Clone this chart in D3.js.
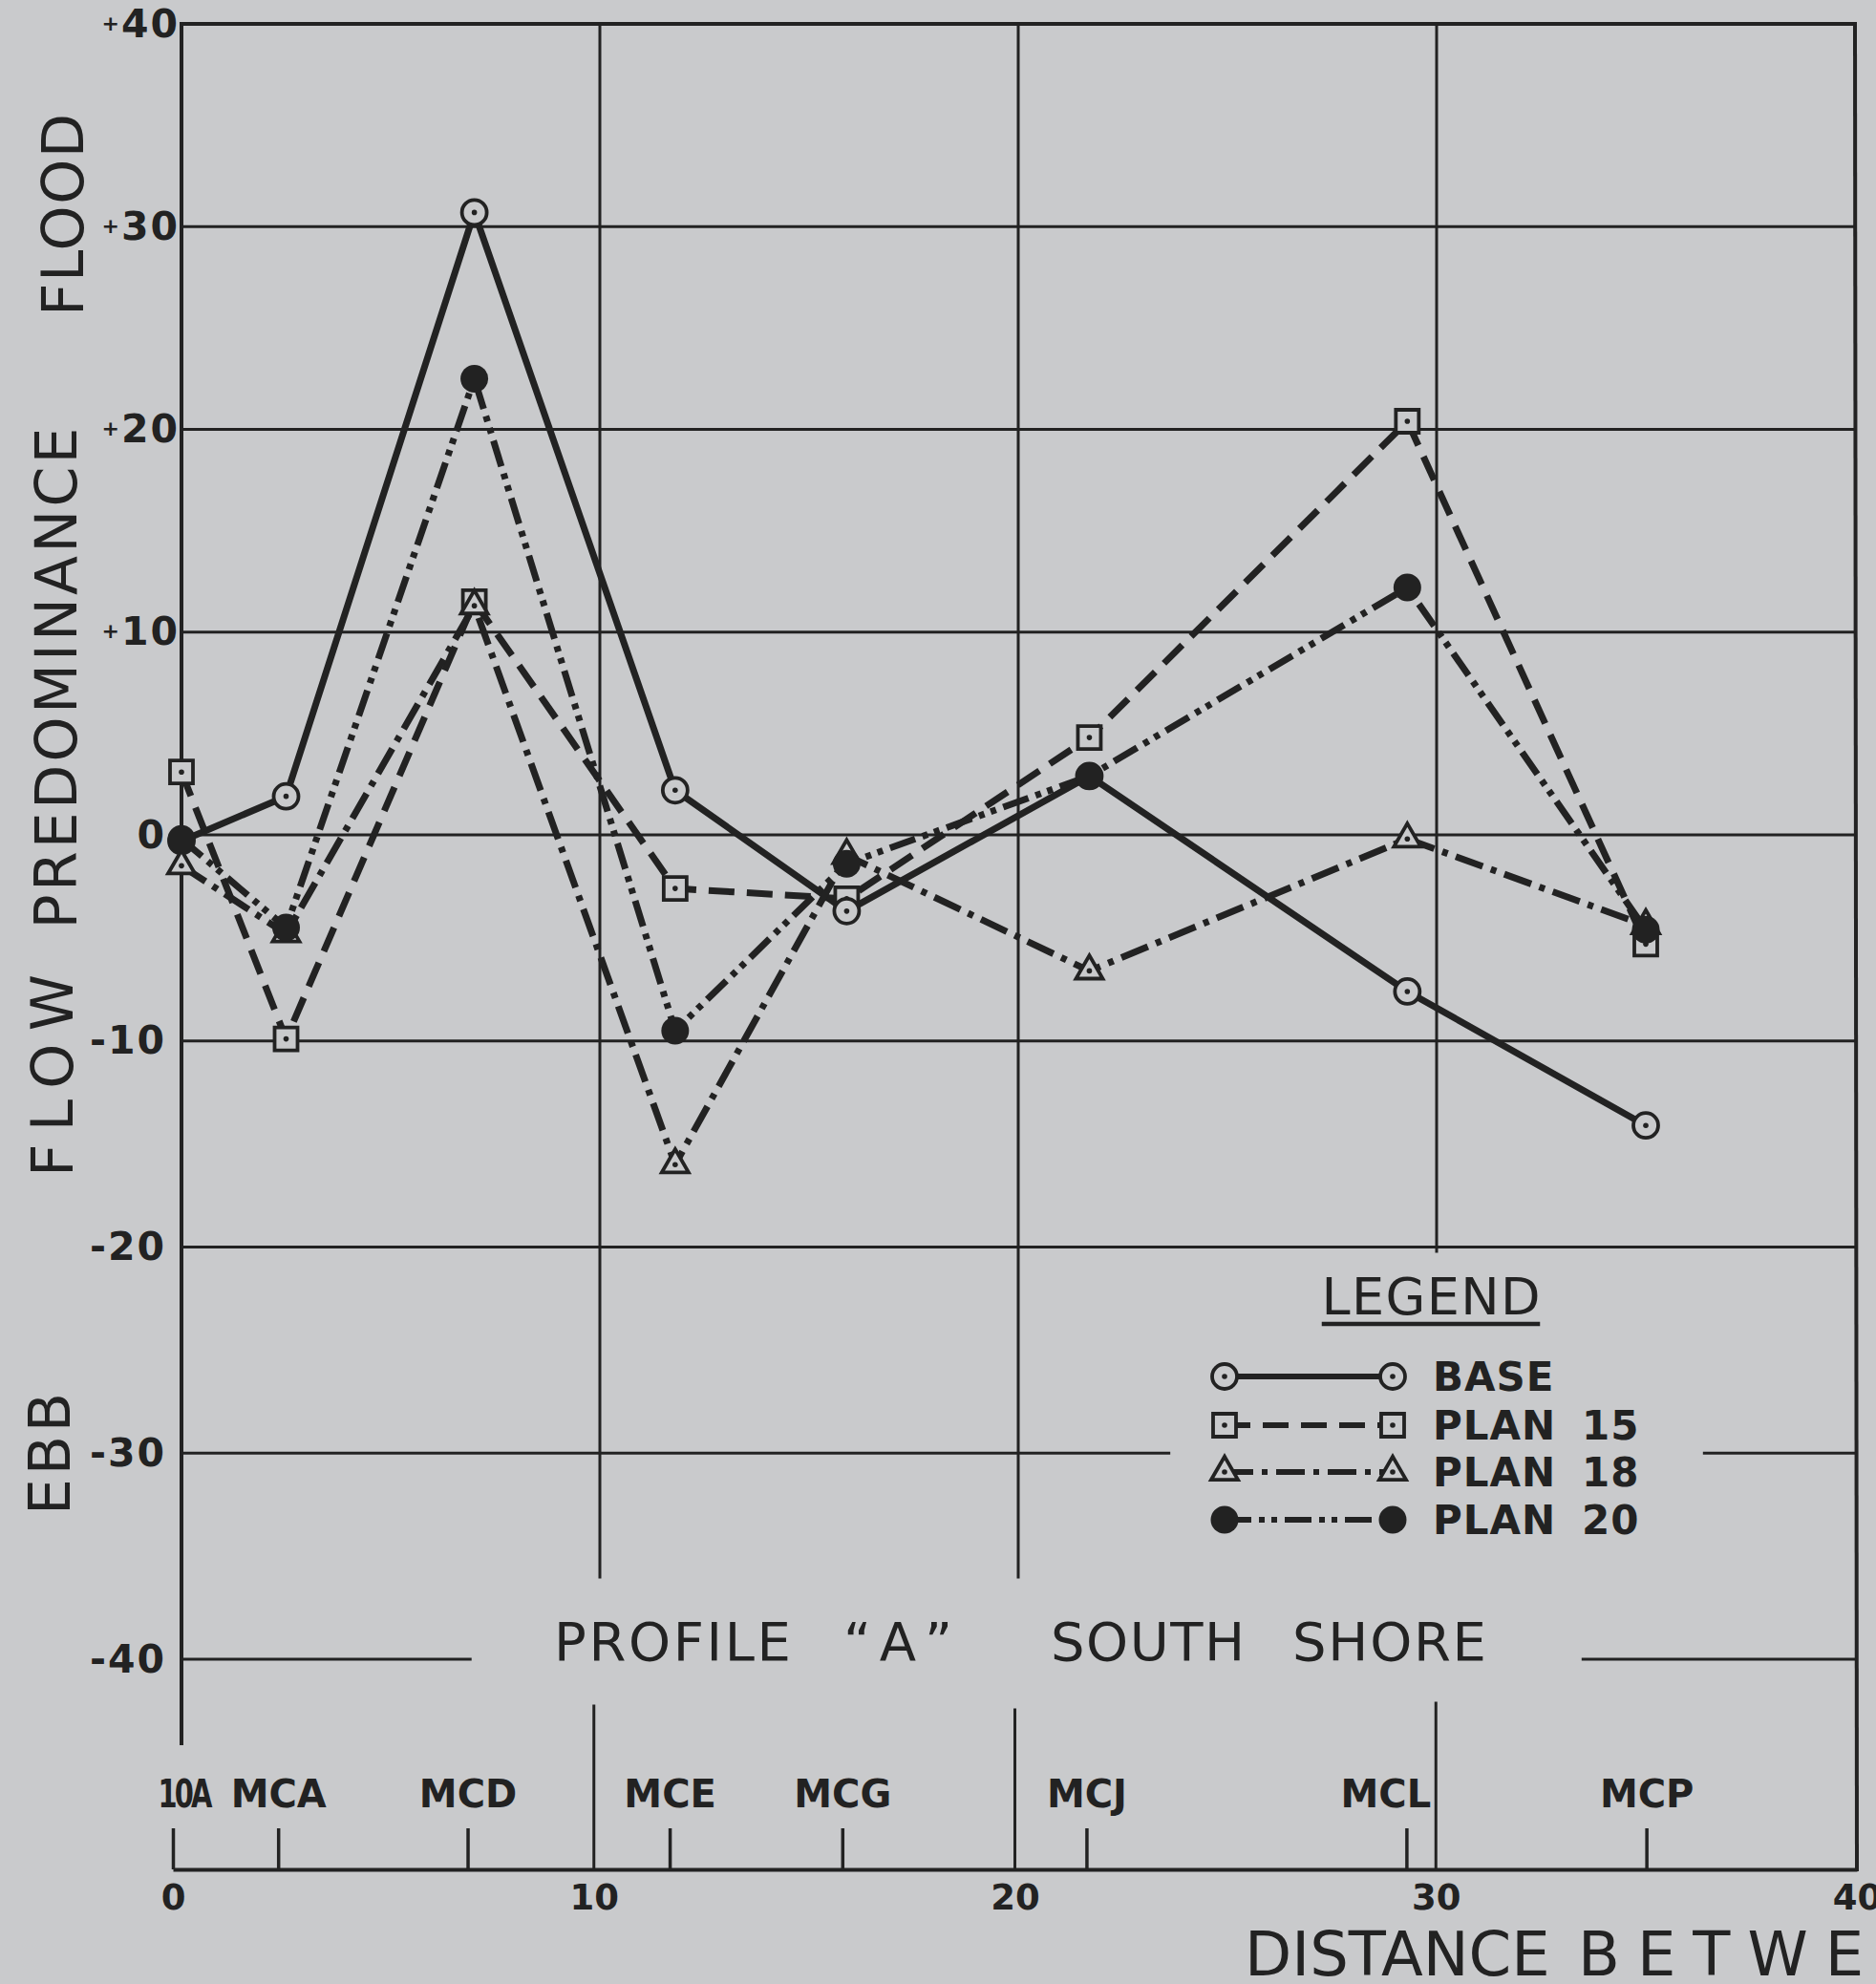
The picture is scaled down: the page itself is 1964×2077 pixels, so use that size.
<!DOCTYPE html>
<html>
<head>
<meta charset="utf-8">
<script src="https://cdn.jsdelivr.net/npm/d3@7"></script>
<style>
  html, body { margin: 0; padding: 0; background: #c9cacc; overflow: hidden; }
  svg { display: block; }
  text { font-family: "DejaVu Sans", "Liberation Sans", sans-serif; fill: #222; }
</style>
</head>
<body>
<svg id="chart"></svg>
<script>
// ---- data ----------------------------------------------------------------
const stations        = ["10A", "MCA", "MCD", "MCE", "MCG", "MCJ", "MCL", "MCP"];
const stationDistance = [0, 2.5, 7.0, 11.8, 15.9, 21.7, 29.3, 35.0];

const seriesNames = ["BASE", "PLAN 15", "PLAN 18", "PLAN 20"];
const base   = [-0.3,  1.9, 30.7,   2.2, -3.7,  2.9, -7.6, -14.1];
const plan15 = [ 3.1, -9.9, 11.5,  -2.6, -3.1,  4.8, 20.4,  -5.3];
const plan18 = [-1.5, -4.8, 11.3, -16.0, -1.0, -6.6, -0.2,  -4.4];
const plan20 = [-0.2, -4.5, 22.5,  -9.5, -1.4,  2.9, 12.2,  -4.6];

const yTicks = [40, 30, 20, 10, 0, -10, -20, -30, -40];
const xTicks = [0, 10, 20, 30, 40];

// ---- setup ---------------------------------------------------------------
const W = 1964, H = 2077;
const ink = "#222", paper = "#c9cacc";
const svg = d3.select("#chart").attr("width", W).attr("height", H);
svg.append("rect").attr("width", W).attr("height", H).attr("fill", paper);

const x  = d3.scaleLinear().domain([0, 40]).range([190, 1942]);        // plot area
const xb = d3.scaleLinear().domain([0, 40]).range([181, 1944]);        // station axis
const y  = d3.scaleLinear().domain([-40, 0, 40]).range([1737, 874, 25]);
const axisY = 1957;

const line = (g, x1, y1, x2, y2, w) =>
  g.append("line").attr("x1", x1).attr("y1", y1).attr("x2", x2).attr("y2", y2)
   .attr("stroke", ink).attr("stroke-width", w).attr("stroke-linecap", "square");

// ---- grid & frame ---------------------------------------------------------
const grid = svg.append("g");
[30, 20, 10, 0, -10, -20].forEach(v => line(grid, x(0), y(v), x(40), y(v), 3));
// lower grid lines are broken around the legend and the title
line(grid, x(0), y(-30), x(23.6), y(-30), 3);
line(grid, x(36.4), y(-30), x(40), y(-30), 3);
line(grid, x(0), y(-40), x(6.9), y(-40), 3);
line(grid, x(33.5), y(-40), x(40), y(-40), 3);
// vertical grid lines, interrupted by the title band
line(grid, x(10), y(40), x(10), 1651, 3);
line(grid, x(20), y(40), x(20), 1651, 3);
line(grid, x(30), y(40), x(30), 1310, 3);
line(grid, xb(10), 1786, xb(10), axisY, 3);
line(grid, xb(20), 1790, xb(20), axisY, 3);
line(grid, xb(30), 1783, xb(30), axisY, 3);
// frame
line(grid, x(0), y(40), x(40), y(40), 4);
line(grid, x(0), y(40), x(0), 1825, 4);
line(grid, x(40), y(40), xb(40), axisY, 4);

// ---- axes -----------------------------------------------------------------
const stationAxis = d3.axisTop(xb)
  .tickValues(stationDistance)
  .tickFormat((d, i) => stations[i])
  .tickSize(43).tickSizeOuter(0).tickPadding(22);
const gs = svg.append("g").attr("transform", `translate(0,${axisY})`).call(stationAxis);
gs.select(".domain").attr("stroke", ink).attr("stroke-width", 4);
gs.selectAll(".tick line").attr("stroke", ink).attr("stroke-width", 3.5);
const labelNudge = { "10A": 11, "MCL": -22 };
gs.selectAll(".tick text")
  .attr("fill", ink).attr("font-size", 40).attr("font-weight", "bold")
  .attr("font-family", "DejaVu Sans")
  .attr("dx", (d, i) => labelNudge[stations[i]] || 0)
  .each(function (d, i) {
    // the station number is lettered narrow
    if (stations[i] === "10A")
      d3.select(this).attr("letter-spacing", -4)
        .attr("textLength", 54).attr("lengthAdjust", "spacingAndGlyphs");
  });

const distAxis = d3.axisBottom(xb).tickValues(xTicks).tickFormat(d3.format("d"))
  .tickSize(0).tickPadding(16);
const gd = svg.append("g").attr("transform", `translate(0,${axisY})`).call(distAxis);
gd.select(".domain").remove();
gd.selectAll(".tick text").attr("fill", ink).attr("font-size", 37)
  .attr("font-weight", "bold").attr("font-family", "DejaVu Sans");

const tickFont = 41;
const valAxis = d3.axisLeft(y).tickValues(yTicks).tickSize(0).tickPadding(2);
const gv = svg.append("g").attr("transform", `translate(${x(0)},0)`).call(valAxis);
gv.select(".domain").remove();
gv.selectAll(".tick text")
  .attr("fill", ink).attr("font-size", tickFont).attr("font-weight", "bold")
  .attr("font-family", "DejaVu Sans").attr("letter-spacing", 2)
  .attr("dx", d => d > 0 ? 0 : -14)
  .each(function (d) {
    const t = d3.select(this).text("");
    if (d > 0) {
      t.append("tspan").attr("font-size", 22).attr("dy", 0.32 * tickFont - 7).text("+");
      t.append("tspan").attr("dy", 7).text(d);
    } else if (d < 0) {
      t.append("tspan").text("-" + Math.abs(d));
    } else {
      t.text("0");
    }
  });

// ---- axis titles -----------------------------------------------------------
const vtext = (str, cx, cy, len, size) =>
  svg.append("text").attr("transform", `translate(${cx},${cy}) rotate(-90)`)
    .attr("text-anchor", "middle").attr("dominant-baseline", "central")
    .attr("font-size", size).attr("textLength", len).attr("lengthAdjust", "spacing")
    .text(str);
vtext("FLOOD", 66, 225, 212, 60);
vtext("PREDOMINANCE", 59, 710, 525, 60);
vtext("FLOW", 55, 1126, 212, 60);
vtext("EBB", 52, 1522, 128, 60);

const htext = (str, x0, cy, len, size) =>
  svg.append("text").attr("x", x0).attr("y", cy).attr("dominant-baseline", "central")
    .attr("font-size", size).attr("textLength", len).attr("lengthAdjust", "spacing").text(str);
htext("PROFILE", 580, 1718, 248, 56);
svg.append("text").attr("x", 948).attr("y", 1718).attr("text-anchor", "middle")
  .attr("dominant-baseline", "central").attr("font-size", 56).attr("letter-spacing", 16)
  .text("\u201CA\u201D");
htext("SOUTH", 1100, 1718, 203, 56);
htext("SHORE", 1353, 1718, 203, 56);
svg.append("text").attr("x", 1303).attr("y", 2046).attr("dominant-baseline", "central")
  .attr("font-size", 64).text("DISTANCE");
svg.append("text").attr("x", 1652).attr("y", 2046).attr("dominant-baseline", "central")
  .attr("font-size", 64).attr("letter-spacing", 18).text("BETWEEN");

// ---- series ----------------------------------------------------------------
const seriesValues = [base, plan15, plan18, plan20];
const dashes  = [null, "27,13", "30,9,6,9", "28,8,6,7,6,8"];
const symbols = ["circle", "square", "triangle", "dot"];

const path = d3.line().x(d => x(d[0])).y(d => y(d[1]));
const linesG = svg.append("g");
seriesValues.forEach((vals, s) => {
  linesG.append("path")
    .attr("d", path(vals.map((v, i) => [stationDistance[i], v])))
    .attr("fill", "none").attr("stroke", ink).attr("stroke-width", 7)
    .attr("stroke-linejoin", "round")
    .attr("stroke-dasharray", dashes[s]);
});

function marker(g, kind, cx, cy) {
  const m = g.append("g").attr("transform", `translate(${cx},${cy})`);
  if (kind === "dot") {
    m.append("circle").attr("r", 14.5).attr("fill", ink);
    return;
  }
  if (kind === "circle") {
    m.append("circle").attr("r", 13).attr("fill", paper).attr("stroke", ink).attr("stroke-width", 3.8);
  } else if (kind === "square") {
    m.append("path").attr("d", d3.symbol(d3.symbolSquare, 24 * 24)())
      .attr("fill", paper).attr("stroke", ink).attr("stroke-width", 3.8);
  } else {
    m.append("path").attr("d", d3.symbol(d3.symbolTriangle, 340)())
      .attr("fill", paper).attr("stroke", ink).attr("stroke-width", 3.8)
      .attr("stroke-linejoin", "miter");
  }
  m.append("circle").attr("r", 2.8).attr("fill", ink);
}

// squares first, then circles, triangles, and the solid dots on top
const markersG = svg.append("g");
[1, 0, 2, 3].forEach(s => {
  seriesValues[s].forEach((v, i) => marker(markersG, symbols[s], x(stationDistance[i]), y(v)));
});

// ---- legend ----------------------------------------------------------------
const lg = svg.append("g");
lg.append("text").attr("x", 1498).attr("y", 1357).attr("text-anchor", "middle")
  .attr("dominant-baseline", "central").attr("font-size", 54)
  .attr("textLength", 229).attr("lengthAdjust", "spacing").text("LEGEND");
line(lg, 1386, 1386, 1610, 1386, 4.5);

const rowY = [1441, 1492, 1541, 1591];
seriesNames.forEach((name, s) => {
  const ry = rowY[s];
  lg.append("line").attr("x1", 1282).attr("y1", ry).attr("x2", 1458).attr("y2", ry)
    .attr("stroke", ink).attr("stroke-width", 6).attr("stroke-dasharray", dashes[s]);
  marker(lg, symbols[s], 1282, ry);
  marker(lg, symbols[s], 1458, ry);
  const [word, num] = name.split(" ");
  lg.append("text").attr("x", 1500).attr("y", ry).attr("dominant-baseline", "central")
    .attr("font-size", 42).attr("font-weight", "bold").attr("letter-spacing", 1).text(word);
  if (num) {
    lg.append("text").attr("x", 1656).attr("y", ry).attr("dominant-baseline", "central")
      .attr("font-size", 42).attr("font-weight", "bold").attr("letter-spacing", 1).text(num);
  }
});
</script>
</body>
</html>
